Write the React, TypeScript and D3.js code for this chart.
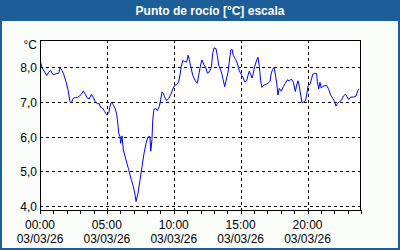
import React from "react";
import * as d3 from "d3";

const hours = [0.05,0.15,0.35,0.5,0.65,0.8,0.95,1.1,1.25,1.4,1.5,1.64,1.79,1.94,2.09,2.24,2.34,2.49,2.64,2.79,2.94,3.09,3.24,3.39,3.54,3.69,3.84,3.99,4.13,4.28,4.43,4.54,4.69,4.84,4.99,5.14,5.23,5.33,5.48,5.63,5.73,5.83,5.88,5.98,6.03,6.13,6.23,6.43,6.63,6.83,6.98,7.08,7.18,7.33,7.48,7.63,7.78,7.93,8.07,8.22,8.28,8.37,8.43,8.52,8.67,8.77,8.92,9.02,9.12,9.22,9.32,9.47,9.62,9.77,9.92,10.07,10.22,10.37,10.47,10.56,10.67,10.82,10.97,11.07,11.16,11.27,11.42,11.61,11.76,11.91,12.01,12.11,12.26,12.41,12.51,12.66,12.81,12.91,13.01,13.16,13.26,13.36,13.51,13.61,13.71,13.81,13.91,14.06,14.15,14.26,14.36,14.45,14.6,14.75,14.9,15.05,15.2,15.3,15.45,15.55,15.65,15.75,15.85,15.95,16.05,16.2,16.3,16.4,16.5,16.6,16.7,16.84,17.05,17.2,17.29,17.4,17.5,17.59,17.7,17.79,17.89,18.04,18.19,18.34,18.49,18.64,18.79,18.94,19.09,19.19,19.29,19.39,19.49,19.59,19.74,19.84,19.94,20.04,20.19,20.28,20.39,20.54,20.69,20.73,20.84,20.93,21.03,21.14,21.29,21.44,21.59,21.73,21.88,22.03,22.13,22.23,22.38,22.53,22.68,22.83,22.93,23.08,23.23,23.42,23.63,23.78,23.83];
const dewPoint = [8.14,7.99,7.86,7.76,7.86,7.91,7.8,7.8,7.82,7.82,7.99,7.91,7.78,7.59,7.36,7.01,6.97,7.11,7.13,7.13,7.17,7.22,7.32,7.22,7.11,7.09,7.22,7.13,7.01,6.95,6.95,6.84,6.82,6.72,6.63,6.69,6.86,6.99,6.92,6.8,6.65,6.34,6.11,6.0,5.81,6.02,5.62,5.33,5.05,4.76,4.56,4.38,4.13,4.37,4.76,5.14,5.52,5.81,5.99,6.0,5.58,5.91,6.48,6.79,6.81,6.75,6.87,7.06,7.29,7.25,7.14,7.04,7.1,7.21,7.37,7.48,7.5,7.58,7.79,8.02,8.19,8.17,8.15,8.35,8.23,8.02,7.77,7.61,7.54,7.86,8.07,8.21,8.07,7.98,7.83,7.87,8.0,8.4,8.56,8.54,8.33,8.06,7.92,7.79,7.61,7.44,7.61,7.86,8.15,8.5,8.52,8.35,8.25,8.12,7.9,7.79,7.69,7.58,7.61,7.77,7.89,7.79,7.69,7.83,8.02,8.21,8.29,8.02,7.61,7.42,7.48,7.5,7.54,7.6,7.83,7.94,8.0,7.81,7.54,7.2,7.39,7.31,7.44,7.54,7.64,7.61,7.66,7.57,7.3,7.49,7.61,7.45,7.2,6.97,7.01,7.03,7.2,7.47,7.51,7.63,7.8,7.82,7.82,7.59,7.38,7.57,7.4,7.45,7.47,7.47,7.36,7.2,7.11,7.01,6.88,6.95,7.01,7.05,7.17,7.22,7.17,7.07,7.14,7.14,7.17,7.34,7.38];

const yTicks = [4, 5, 6, 7, 8];
const yTickLabels = ["4,0", "5,0", "6,0", "7,0", "8,0"];
const xMajorTicks = [0, 5, 10, 15, 20];
const xTimeLabels = ["00:00", "05:00", "10:00", "15:00", "20:00"];
const dateLabel = "03/03/26";
const title = "Punto de rocío [°C] escala";
const unit = "°C";

export default function App() {
  const W = 400, H = 250;
  const left = 40, right = 360, top = 40, bottom = 210;
  const x = d3.scaleLinear().domain([0, 24]).range([left, left + 24 * 13.375]);
  const y = d3.scaleLinear().domain([4, 8]).range([206, 67.3]);
  const data = hours.map((h, i) => [h, dewPoint[i]] as [number, number]);
  const line = d3.line<[number, number]>().x(d => x(d[0])).y(d => y(d[1]));
  const minor = d3.range(0, 25);
  const font = "'Liberation Sans', Arial, sans-serif";
  return (
    <svg width={W} height={H} style={{ position: "absolute", left: 0, top: 0 }} fontFamily={font}>
      <rect x={0} y={0} width={W} height={H} fill="#1d5d98" />
      <rect x={2} y={21} width={W - 4} height={H - 23} fill="#fbfdfb" />
      <text x={210} y={15} textAnchor="middle" fill="#fff" fontWeight="bold" fontSize={12}>{title}</text>
      <rect x={left} y={top} width={right - left} height={bottom - top} fill="#fff" />
      {yTicks.map(v => (
        <line key={"gy" + v} x1={left} x2={right} y1={Math.round(y(v)) + 0.5} y2={Math.round(y(v)) + 0.5}
          stroke="#000" strokeDasharray="3,3" shapeRendering="crispEdges" />
      ))}
      {xMajorTicks.slice(1).map(h => (
        <line key={"gx" + h} x1={Math.round(x(h)) + 0.5} x2={Math.round(x(h)) + 0.5} y1={top} y2={bottom}
          stroke="#000" strokeDasharray="3,3" shapeRendering="crispEdges" />
      ))}
      <path d={line(data) || ""} fill="none" stroke="#0000ff" strokeWidth={1} />
      <rect x={left + 0.5} y={top + 0.5} width={right - left} height={bottom - top} fill="none" stroke="#000" strokeWidth={1} shapeRendering="crispEdges" />
      {minor.map(h => (
        <line key={"t" + h} x1={Math.round(x(h)) + 0.5} x2={Math.round(x(h)) + 0.5} y1={bottom} y2={bottom + 4}
          stroke="#000" shapeRendering="crispEdges" />
      ))}
      {yTicks.map((v, i) => (
        <text key={"yl" + v} x={37} y={y(v) + 5} textAnchor="end" fontSize={12} fill="#000">{yTickLabels[i]}</text>
      ))}
      <text x={37} y={49} textAnchor="end" fontSize={12} fill="#000">{unit}</text>
      {xMajorTicks.map((h, i) => (
        <g key={"xl" + h}>
          <text x={x(h)} y={229} textAnchor="middle" fontSize={12} fill="#000">{xTimeLabels[i]}</text>
          <text x={x(h)} y={243} textAnchor="middle" fontSize={12} fill="#000">{dateLabel}</text>
        </g>
      ))}
    </svg>
  );
}
